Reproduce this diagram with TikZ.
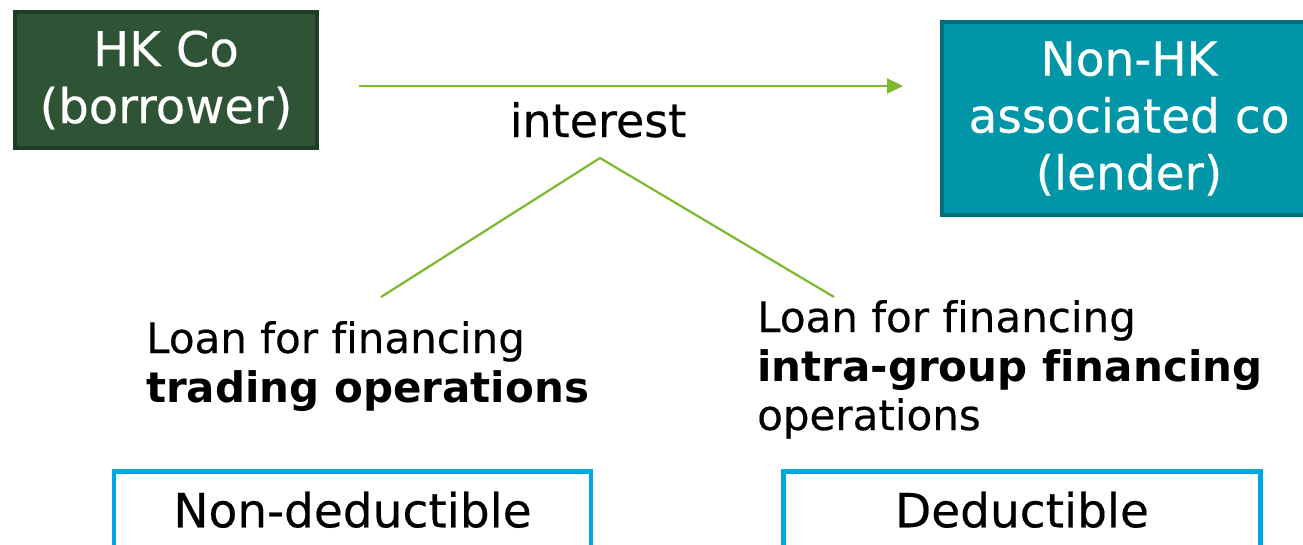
\documentclass[tikz,border=0pt]{standalone}
\usepackage{fontspec}
\setmainfont{DejaVu Sans}[Ligatures=NoCommon, UprightFeatures={FakeBold=0.35}, BoldFeatures={FakeBold=0}]
\usetikzlibrary{arrows.meta}
\definecolor{hkfill}{HTML}{2E5435}
\definecolor{hkline}{HTML}{1F3D25}
\definecolor{nhfill}{HTML}{0096A7}
\definecolor{nhline}{HTML}{006E79}
\definecolor{lgreen}{HTML}{7CB92C}
\definecolor{rblue}{HTML}{00A6E2}
\begin{document}
\begin{tikzpicture}[x=1pt,y=-1pt,
  company/.style={draw, line width=4.5pt, text=white, align=center, inner sep=0pt,
    font=\fontsize{48}{57}\selectfont},
  flow/.style={draw=lgreen, line width=2.2pt},
  txt/.style={inner sep=0pt, align=left, font=\fontsize{42}{49}\selectfont},
  resultbox/.style={draw=rblue, line width=4.5pt, fill=white, minimum width=477pt,
    inner xsep=0pt, inner ysep=21pt, text height=35pt, text depth=30pt,
    font=\fontsize{47}{56}\selectfont}]
\useasboundingbox (0,0) rectangle (1303,544);
\clip (0,0) rectangle (1303,544);
\fill[white] (0,0) rectangle (1303,544);

\node[company, fill=hkfill, draw=hkline, minimum width=302pt, minimum height=136pt]
  (hk) at (166,80) {HK Co\\(borrower)};
\node[company, fill=nhfill, draw=nhline, minimum width=374pt, minimum height=193pt,
  font=\fontsize{47}{57}\selectfont]
  (nhk) at (1129,118.5) {Non-HK\\associated co\\(lender)};

\coordinate (a1) at (359,86);
\coordinate (a2) at (903,86);
\draw[flow, -{Triangle[length=16pt,width=15pt]}] (a1) -- (a2);

\node[inner sep=0pt, anchor=base, font=\fontsize{46}{55}\selectfont] (int) at (598,137) {interest};

\coordinate (apex) at (600,158);
\coordinate (lend) at (381,297);
\coordinate (rend) at (834,297);
\draw[flow] (lend) -- (apex) -- (rend);

\node[txt, anchor=base west] (ltxt) at (146,402) {Loan for financing\\\textbf{trading operations}};
\node[txt, anchor=base west] (rtxt) at (757,430) {Loan for financing\\\textbf{intra-group financing}\\operations};

\node[resultbox, anchor=north] (nd) at (352.5,469) {Non-deductible};
\node[resultbox, anchor=north] (dd) at (1022,469) {Deductible};
\end{tikzpicture}
\end{document}
